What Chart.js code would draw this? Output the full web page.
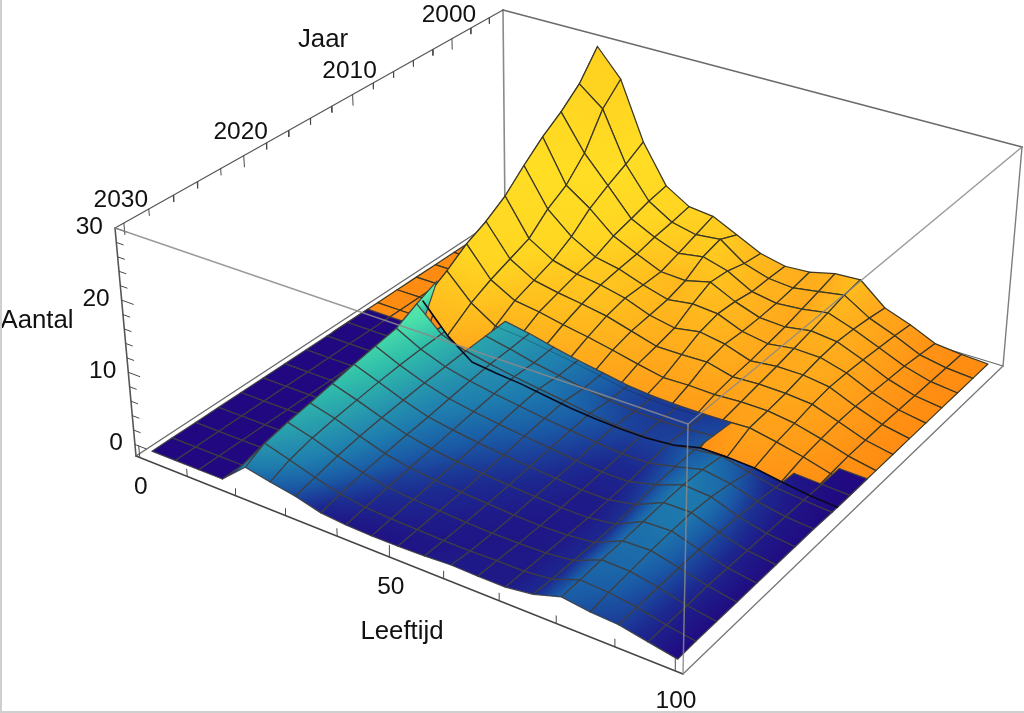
<!DOCTYPE html>
<html>
<head>
<meta charset="utf-8">
<title>Aantal per leeftijd en jaar</title>
<script src="https://cdn.jsdelivr.net/npm/chart.js@4/dist/chart.umd.min.js"></script>
<style>
  html, body { margin: 0; padding: 0; background: #fff; overflow: hidden; }
  #wrap { position: relative; width: 1024px; height: 713px; }
  #frame { position: absolute; inset: 0; border-left: 2px solid #cfcfcf; border-bottom: 2px solid #cfcfcf; box-sizing: border-box; pointer-events: none; }
</style>
</head>
<body>
<div id="wrap">
  <canvas id="surface" width="1024" height="713"></canvas>
  <div id="frame"></div>
</div>
<script>
// axes
const ageTickLabels = [0, 50, 100];
const ageMinorTicks = [10, 20, 30, 40, 60, 70, 80, 90];
const yearTickLabels = [2000, 2010, 2020, 2030];
const yearMinorTicks = [1996, 1998, 2002, 2004, 2006, 2008, 2012, 2014, 2016, 2018, 2022, 2024, 2026, 2028];
const countTickLabels = [0, 10, 20, 30];
const countMinorTicks = [2, 4, 6, 8, 12, 14, 16, 18, 22, 24, 26, 28];

// mesh lines as they sit against the age axis
const ages = [2.8, 7.7, 12.6, 17.4, 22.3, 27.2, 32.1, 37, 41.8, 46.7, 51.6, 56.5, 61.4, 66.2, 71.1, 76, 80.9, 85.8, 90.6, 95.5, 100.4];

// registered years (orange surface)
const histYears = [1996, 1998, 2000, 2002, 2004, 2006, 2008, 2010, 2012, 2014.4];
const hist1996 = [0, 0, 0, 0.2, 30, 26, 17.5, 11.9, 9.8, 9.4, 7.7, 6, 5.2, 5.4, 6.3, 6.5, 3.5, 2.2, 0.6, 0.2, 0];
const hist1998 = [0, 0, 0, 0.2, 26, 23.2, 15.9, 11.4, 9.3, 8.5, 8.9, 6.4, 5.3, 5, 5.6, 6.2, 4, 2.6, 1, 0.3, 0];
const hist2000 = [0, 0, 0, 0.2, 23.5, 18.3, 14.5, 10.6, 8.9, 7.6, 8.2, 7.2, 5.3, 4.7, 5, 5.6, 4.4, 2.9, 1.4, 0.4, 0];
const hist2002 = [0, 0, 0, 0.2, 21.5, 15.3, 12.9, 9.9, 8.3, 6.8, 6.6, 7.5, 5.8, 4.6, 4.4, 5, 4.6, 3.2, 1.6, 0.5, 0];
const hist2004 = [0, 0, 0, 0.2, 19, 13.6, 10.6, 8.7, 8, 6.8, 5.8, 6.3, 6, 4.6, 4, 4.5, 4.4, 3.4, 1.8, 0.6, 0];
const hist2006 = [0, 0, 0, 0.2, 16.3, 11.1, 9, 8.1, 7.6, 6.8, 5.5, 4.8, 5.4, 4.8, 3.6, 4, 4, 3.5, 2, 0.7, 0];
const hist2008 = [0, 0, 0, 0.2, 14.4, 10, 8, 7.3, 6.8, 6.2, 5.2, 4.2, 4.2, 4.3, 3.4, 3.6, 3.5, 3.2, 2, 0.7, 0];
const hist2010 = [0, 0, 0, 0.2, 13, 8.9, 7, 6.5, 5.8, 5.2, 4.5, 3.7, 3, 3.1, 3, 3.2, 3.2, 2.7, 1.8, 0.7, 0];
const hist2012 = [0, 0, 0, 0.2, 11, 7.5, 5.3, 5, 4.5, 4, 3.4, 2.7, 2.3, 2.2, 2.3, 2.8, 3, 2.3, 1.5, 0.5, 0];
const hist2014 = [0, 0, 0, 0.2, 9, 5.2, 2.6, 2.2, 1.9, 1.4, 0.9, 0.6, 0.4, 0.4, 0.7, 1.6, 1.6, 1.4, 0.8, 0.3, 0];
const histRows = [hist1996, hist1998, hist2000, hist2002, hist2004, hist2006, hist2008, hist2010, hist2012, hist2014];

// forecast years (blue surface)
const progYears = [2011, 2013, 2015, 2017, 2019, 2021, 2023, 2025, 2027, 2029, 2030.7];
const prog2011 = [0, 0, 0, 0.1, 11.5, 6.2, 5, 4.4, 3.6, 2.9, 2.3, 1.7, 1.4, 1.3, 1.3, 1.4, 2, 0.8, 0.2, 0.1, 0];
const prog2013 = [0, 0, 0, 0.1, 10.5, 6.1, 4.9, 4.2, 3.4, 2.8, 2.2, 1.7, 1.4, 1.3, 1.4, 1.7, 2.1, 1, 0.4, 0.2, 0];
const prog2015 = [0, 0, 0, 0.1, 9.2, 6, 4.8, 4.1, 3.5, 3, 2.5, 2, 1.6, 1.4, 1.5, 2, 2.4, 1.5, 0.7, 0.3, 0];
const prog2017 = [0, 0, 0, 0.05, 7.7, 5.9, 4.6, 3.8, 3.2, 2.7, 2.2, 1.8, 1.4, 1.1, 1.1, 1.9, 2.8, 2.2, 1.1, 0.4, 0.1];
const prog2019 = [0, 0, 0, 0.05, 7.2, 5.7, 4.4, 3.4, 2.8, 2.3, 1.9, 1.5, 1.1, 0.8, 0.8, 1.7, 3, 2.7, 1.4, 0.5, 0.1];
const prog2021 = [0, 0, 0, 0, 6.7, 5.4, 4.1, 3, 2.4, 1.9, 1.5, 1.2, 0.9, 0.6, 0.6, 1.3, 2.9, 2.9, 1.6, 0.6, 0.1];
const prog2023 = [0, 0, 0, 0, 6.1, 5, 3.8, 2.7, 2, 1.5, 1.2, 0.9, 0.7, 0.5, 0.5, 1, 2.7, 2.8, 1.7, 0.7, 0.1];
const prog2025 = [0, 0, 0, 0, 5.5, 4.6, 3.4, 2.3, 1.6, 1.2, 0.9, 0.7, 0.5, 0.4, 0.5, 0.9, 2.5, 2.6, 1.7, 0.8, 0.1];
const prog2027 = [0, 0, 0, 0, 5, 4.1, 2.9, 1.9, 1.2, 0.9, 0.7, 0.5, 0.4, 0.4, 0.5, 0.9, 2.4, 2.3, 1.6, 0.7, 0.1];
const prog2029 = [0, 0, 0, 0, 4.3, 3.3, 2.2, 1.3, 0.8, 0.6, 0.5, 0.4, 0.4, 0.5, 0.5, 0.9, 2.2, 2, 1.5, 0.7, 0.1];
const prog2030 = [0, 0, 0, 0, 2.9, 2.2, 1.6, 0.7, 0.4, 0.3, 0.3, 0.4, 0.6, 0.5, 0.5, 1, 2.1, 1.6, 1.4, 0.7, 0];
const progRows = [prog2011, prog2013, prog2015, prog2017, prog2019, prog2021, prog2023, prog2025, prog2027, prog2029, prog2030];

// colour ramps, [count, r, g, b]
const histRamp = [[0, 255, 140, 18], [2, 255, 156, 24], [4, 255, 170, 28], [7, 255, 192, 30], [10, 255, 214, 34], [16, 255, 222, 36], [30, 255, 205, 30]];
const progRamp = [[0, 33, 8, 128], [1, 28, 42, 144], [2, 26, 92, 166], [3, 30, 124, 174], [4, 37, 144, 174], [6, 48, 190, 170], [8, 75, 225, 170], [10, 95, 238, 170], [12, 111, 245, 173]];

// view box of the plot, in data units
const box = { ageLo: -0.8, ageHi: 101.3, yearNear: 2030.7, yearFar: 1994.5, lo: -1.6, hi: 30 };

// camera: where the corners of the box land on the page
const floorCorners = [[136, 456], [683, 674], [1003, 366], [505, 214]];
const roofCorners = [[115, 228], [688, 424], [1022, 147], [503, 10]];

function squareToQuad(q) {
    const [[x0, y0], [x1, y1], [x2, y2], [x3, y3]] = q;
    const dx1 = x1 - x2, dx2 = x3 - x2, sx = x0 - x1 + x2 - x3;
    const dy1 = y1 - y2, dy2 = y3 - y2, sy = y0 - y1 + y2 - y3;
    const det = dx1 * dy2 - dx2 * dy1;
    const g = (sx * dy2 - dx2 * sy) / det;
    const h = (dx1 * sy - sx * dy1) / det;
    return (u, v) => {
        const w = g * u + h * v + 1;
        return [((x1 - x0 + g * x1) * u + (x3 - x0 + h * x3) * v + x0) / w,
                ((y1 - y0 + g * y1) * u + (y3 - y0 + h * y3) * v + y0) / w];
    };
}
const floorMap = squareToQuad(floorCorners);
const roofMap = squareToQuad(roofCorners);

function project(age, year, count) {
    const u = (age - box.ageLo) / (box.ageHi - box.ageLo);
    const v = (box.yearNear - year) / (box.yearNear - box.yearFar);
    const w = (count - box.lo) / (box.hi - box.lo);
    const a = floorMap(u, v), b = roofMap(u, v);
    return { x: a[0] + (b[0] - a[0]) * w, y: a[1] + (b[1] - a[1]) * w };
}

function rampColor(ramp, t) {
    let i = 0;
    while (i < ramp.length - 2 && t > ramp[i + 1][0]) i++;
    const p = ramp[i], q = ramp[i + 1];
    const f = Math.max(0, Math.min(1, (t - p[0]) / (q[0] - p[0])));
    const c = [1, 2, 3].map(k => Math.round(p[k] + (q[k] - p[k]) * f));
    return `rgb(${c[0]}, ${c[1]}, ${c[2]})`;
}

// one mesh cell gets a linear gradient fitted through its four corners
function cellFill(chart, pts, vals, ramp) {
    const xs = chart.scales.x, ys = chart.scales.y;
    const p = pts.map(d => [xs.getPixelForValue(d.x), ys.getPixelForValue(d.y)]);
    const mean = (vals[0] + vals[1] + vals[2] + vals[3]) / 4;
    // scales are not laid out yet on the first pass
    if (!p.every(q => Number.isFinite(q[0]) && Number.isFinite(q[1]))) return rampColor(ramp, mean);
    const ax = p[2][0] - p[0][0], ay = p[2][1] - p[0][1], at = vals[2] - vals[0];
    const bx = p[3][0] - p[1][0], by = p[3][1] - p[1][1], bt = vals[3] - vals[1];
    const det = ax * by - ay * bx;
    const lo = Math.min(...vals), hi = Math.max(...vals);
    if (hi - lo < 0.01 || Math.abs(det) < 1e-6) return rampColor(ramp, mean);
    const gx = (at * by - bt * ay) / det, gy = (ax * bt - bx * at) / det;
    const g2 = gx * gx + gy * gy;
    if (g2 < 1e-9) return rampColor(ramp, mean);
    const cx = (p[0][0] + p[1][0] + p[2][0] + p[3][0]) / 4;
    const cy = (p[0][1] + p[1][1] + p[2][1] + p[3][1]) / 4;
    const grad = chart.ctx.createLinearGradient(
        cx + gx / g2 * (lo - mean), cy + gy / g2 * (lo - mean),
        cx + gx / g2 * (hi - mean), cy + gy / g2 * (hi - mean));
    for (let i = 0; i <= 6; i++) {
        grad.addColorStop(i / 6, rampColor(ramp, lo + (hi - lo) * i / 6));
    }
    return grad;
}

// orange surface goes darker on flanks facing the low ages
function histShade(rows, k, c) {
    const row = rows[k];
    const rise = (row[Math.min(c + 1, row.length - 1)] - row[Math.max(c - 1, 0)]);
    return row[c] - Math.min(2.5, Math.max(0, rise) * 1.2);
}

function progShade(rows, k, c) {
    return rows[k][c];
}

function cellDataset(col, rowYears, rows, r, ramp, shade, mesh, meshWidth) {
    const corners = [[col, r], [col + 1, r], [col + 1, r + 1], [col, r + 1]];
    const pts = corners.map(([c, k]) => project(ages[c], rowYears[k], rows[k][c]));
    const vals = corners.map(([c, k]) => shade(rows, k, c));
    return {
        data: [...pts, pts[0]],
        showLine: true,
        fill: 'shape',
        backgroundColor: ctx => cellFill(ctx.chart, pts, vals, ramp),
        borderColor: mesh,
        borderWidth: meshWidth,
        pointRadius: 0
    };
}

function polyline(points, color, width) {
    return { data: points, showLine: true, fill: false, borderColor: color, borderWidth: width, pointRadius: 0 };
}

function edge(a, b, color, width) {
    return polyline([a, b], color, width);
}

const histMesh = '#3b3824';
const progMesh = 'rgba(62, 62, 66, 0.92)';
const backLine = '#6a6a6a';
const frontLine = 'rgba(138, 138, 138, 0.85)';
const tickLine = '#4a4a4a';

const P = project;
const layers = [];

// back of the box
layers.push(edge(P(box.ageLo, box.yearFar, box.lo), P(box.ageLo, box.yearFar, box.hi), '#8a8a8a', 1.6));
layers.push(edge(P(box.ageLo, box.yearNear, box.lo), P(box.ageLo, box.yearFar, box.lo), backLine, 1.4));
layers.push(edge(P(box.ageLo, box.yearFar, box.lo), P(box.ageHi, box.yearFar, box.lo), backLine, 1.2));
layers.push(edge(P(box.ageHi, box.yearFar, box.lo), P(box.ageHi, box.yearFar, box.hi), '#7d7d7d', 1.4));
layers.push(edge(P(box.ageLo, box.yearFar, box.hi), P(box.ageHi, box.yearFar, box.hi), backLine, 1.4));
layers.push(edge(P(box.ageLo, box.yearNear, box.hi), P(box.ageLo, box.yearFar, box.hi), '#555', 1.2));
layers.push(edge(P(box.ageLo, box.yearNear, box.lo), P(box.ageHi, box.yearNear, box.lo), '#444', 1.4));
layers.push(edge(P(box.ageHi, box.yearNear, box.lo), P(box.ageHi, box.yearFar, box.lo), '#777', 1.3));
layers.push(edge(P(box.ageLo, box.yearNear, box.lo), P(box.ageLo, box.yearNear, box.hi), '#555', 1.6));

// ticks
ageTickLabels.concat(ageMinorTicks).forEach(a => {
    const len = ageTickLabels.includes(a) ? 1.6 : 1;
    layers.push(edge(P(a, box.yearNear, box.lo), P(a, box.yearNear, box.lo + len), tickLine, 1));
});
yearTickLabels.concat(yearMinorTicks).forEach(y => {
    const len = yearTickLabels.includes(y) ? 1.6 : 0.9;
    layers.push(edge(P(box.ageLo, y, box.hi), P(box.ageLo, y, box.hi - len), tickLine, 1));
});
countTickLabels.concat(countMinorTicks).forEach(z => {
    const len = countTickLabels.includes(z) ? 2.4 : 1.4;
    layers.push(edge(P(box.ageLo, box.yearNear, z), P(box.ageLo + len, box.yearNear, z), tickLine, 1));
});

// surfaces: columns run low age to high age, rows far to near.
// the two overlap in the first forecast rows; per column some of those rows stay behind the orange
const progRowsBehind = c => {
    if (c === 3 || c === 18) return 1;
    return c < 3 || (c >= 6 && c < 15) || c > 18 ? 0 : 2;
};
const columns = ages.slice(0, -1).map((a, c) => c);

columns.forEach(c => {
    for (let r = 0; r < progRowsBehind(c); r++) {
        layers.push(cellDataset(c, progYears, progRows, r, progRamp, progShade, progMesh, 1.25));
    }
});
columns.forEach(c => {
    for (let r = 0; r < histRows.length - 1; r++) {
        layers.push(cellDataset(c, histYears, histRows, r, histRamp, histShade, histMesh, 1.25));
    }
});
columns.forEach(c => {
    for (let r = progRowsBehind(c); r < progRows.length - 1; r++) {
        layers.push(cellDataset(c, progYears, progRows, r, progRamp, progShade, progMesh, 1.25));
    }
});

// orange mesh showing through the blue, and its dark front row
layers.push(polyline(ages.map((a, i) => P(a, 2012, hist2012[i])).slice(6, 15), 'rgba(20, 20, 30, 0.3)', 1));
layers.push(polyline(ages.map((a, i) => P(a, 2014.4, hist2014[i])).slice(4), '#0a0a1e', 1.6));

// front of the box, over the surface
layers.push(edge(P(box.ageLo, box.yearNear, box.hi), P(box.ageHi, box.yearNear, box.hi), frontLine, 1.5));
layers.push(edge(P(box.ageHi, box.yearNear, box.hi), P(box.ageHi, box.yearFar, box.hi), frontLine, 1.5));
layers.push(edge(P(box.ageHi, box.yearNear, box.lo), P(box.ageHi, box.yearNear, box.hi), frontLine, 1.5));

const tickFont = '24.5px "Liberation Sans", Arial, sans-serif';
const titleFont = '25.8px "Liberation Sans", Arial, sans-serif';

const axisText = {
    id: 'axisText',
    afterDraw(chart) {
        const ctx = chart.ctx, xs = chart.scales.x, ys = chart.scales.y;
        const put = (txt, x, y, dx, dy, align) => {
            ctx.textAlign = align;
            ctx.fillText(txt, xs.getPixelForValue(x) + dx, ys.getPixelForValue(y) + dy);
        };
        ctx.save();
        ctx.font = tickFont;
        ctx.fillStyle = '#111';
        ctx.textBaseline = 'middle';
        ageTickLabels.forEach(a => {
            const p = P(a, box.yearNear, box.lo);
            put(String(a), p.x, p.y, 1, 30, 'center');
        });
        yearTickLabels.forEach(y => {
            const p = P(box.ageLo, y, box.hi);
            put(String(y), p.x, p.y, -3, -23, 'center');
        });
        countTickLabels.forEach(z => {
            const p = P(box.ageLo, box.yearNear, z);
            put(String(z), p.x, p.y, -12, -1, 'right');
        });
        ctx.font = titleFont;
        put('Leeftijd', 402, 632, 0, 0, 'center');
        put('Jaar', 323, 40, 0, 0, 'center');
        put('Aantal', 37, 321, 0, 0, 'center');
        ctx.restore();
    }
};

// chart.js paints the first dataset last
new Chart(document.getElementById('surface'), {
    type: 'scatter',
    data: { datasets: layers.slice().reverse() },
    options: {
        responsive: false,
        animation: false,
        events: [],
        layout: { padding: 0 },
        elements: { line: { tension: 0, borderJoinStyle: 'round', borderCapStyle: 'round' } },
        scales: {
            x: { type: 'linear', min: 0, max: 1024, display: false },
            y: { type: 'linear', min: 0, max: 713, reverse: true, display: false }
        },
        plugins: { legend: { display: false }, tooltip: { enabled: false }, title: { display: false } }
    },
    plugins: [axisText]
});
</script>
</body>
</html>
